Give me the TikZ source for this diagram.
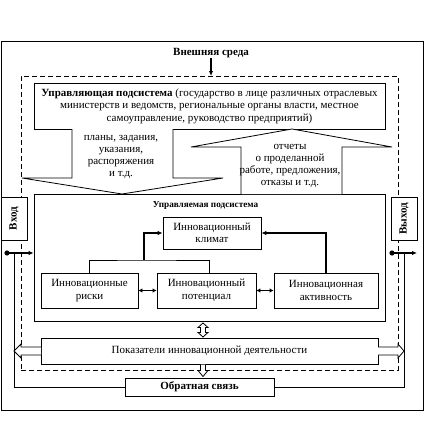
\documentclass[tikz,border=0pt]{standalone}
\usepackage{fontspec}
\setmainfont{Liberation Serif}
\usetikzlibrary{arrows.meta,calc}
\begin{document}
\begin{tikzpicture}[x=1pt,y=-1pt,
  box/.style={draw,line width=0.8pt,fill=white,inner sep=1pt,align=center,font=\fontsize{11}{12.5}\selectfont},
  thinline/.style={line width=0.8pt},
  thk/.style={line width=1.5pt},
  tip/.style={-{Latex[length=5pt,width=4.5pt]}},
  dtip/.style={{Latex[length=4pt,width=4.5pt]}-{Latex[length=4pt,width=4.5pt]}},
  txt/.style={align=center,inner sep=0pt,font=\fontsize{11}{12.2}\selectfont},
  blk/.style={draw,line width=0.8pt,fill=white}]
\useasboundingbox (0,0) rectangle (435,436);
% outer
\node[draw,line width=0.8pt,minimum width=422pt,minimum height=369pt,inner sep=0pt] (outer) at (212,225.5) {};
% dashed
\node[draw,line width=1pt,dash pattern=on 5pt off 3pt,minimum width=377pt,minimum height=294pt,inner sep=0pt] (dash) at (209.5,223) {};
\node[txt,font=\fontsize{11}{12}\selectfont\bfseries] (env) at (211,53) {Внешняя среда};
\coordinate (envtip) at (211,76);
\draw[thk,tip] (211,58) -- (envtip);
% control subsystem
\node[box,minimum width=351pt,minimum height=46pt] (ctrl) at (209.5,106)
 {\textbf{Управляющая подсистема} (государство в лице различных отраслевых\\
  министерств и ведомств, региональные органы власти, местное\\
  самоуправление, руководство предприятий)};
% managed subsystem
\node[box,minimum width=351pt,minimum height=127pt] (man) at (209.5,257.5) {};
\node[txt,font=\fontsize{9.2}{11}\selectfont\bfseries] (mantitle) at (205.5,205) {Управляемая подсистема};
% block arrows
\draw[blk] (72,129) -- (72,178) -- (22,178) -- (122,194) -- (223,178) -- (173,178) -- (173,129);
\draw[blk] (241,194) -- (241,147) -- (191,147) -- (292,129) -- (392,147) -- (342,147) -- (342,194);
\node[txt] (plans) at (121,157) {планы, задания,\\указания,\\распоряжения\\и т.д.};
\node[txt] (reports) at (290,166) {отчеты\\о проделанной\\работе, предложения,\\отказы и т.д.};
% inner boxes
\node[box,minimum width=98pt,minimum height=32pt] (clim) at (212,233) {Инновационный\\климат};
\node[box,minimum width=97pt,minimum height=35pt] (risk) at (89.5,290.5) {Инновационные\\риски};
\node[box,minimum width=99pt,minimum height=35pt] (pot) at (206.5,290.5) {Инновационный\\потенциал};
\node[box,minimum width=104pt,minimum height=35pt] (act) at (326,290.5) {Инновационная\\активность};
\coordinate (brk) at (144,260);
\draw[thinline] (risk.north) |- (brk) -| ([xshift=3pt]pot.north);
\draw[thk,tip] (brk) |- (clim.west);
\draw[thk,tip] (act.north) |- (clim.east);
\draw[thk,dtip] (risk.east) -- (pot.west);
\draw[thk,dtip] (pot.east) -- (act.west);
% input / output
\node[box,minimum width=26pt,minimum height=43pt] (in) at (14,218.5) {\rotatebox{90}{\textbf{Вход}}};
\node[box,minimum width=26pt,minimum height=43pt] (out) at (404,218.5) {\rotatebox{90}{\textbf{Выход}}};
\coordinate (indot) at (7,253);
\coordinate (inj) at (14,253);
\coordinate (outdot) at (392,253);
\coordinate (outj) at (404,253);
\coordinate (outend) at (417,253);
\fill (indot) circle (2.6pt);
\fill (outdot) circle (2.6pt);
\draw[thk,tip] (indot) -- (indot -| man.west);
\draw[thk,tip] (outdot) -- (outend);
% indicators and feedback
\node[box,minimum width=337pt,minimum height=26pt] (ind) at (209.5,351) {Показатели инновационной деятельности};
\node[box,minimum width=149pt,minimum height=18pt,font=\fontsize{11}{12}\selectfont\bfseries] (fb) at (199.5,387) {Обратная связь};
\draw[thinline] (fb.west) -| (inj);
\draw[thinline] (fb.east) -| (outj);
% small hollow arrows
\draw[blk] (41,347) -- (21,347) -- (21,344) -- (14,351) -- (21,358) -- (21,355) -- (41,355);
\draw[blk] (378,347) -- (398,347) -- (398,344) -- (404,351) -- (398,358) -- (398,355) -- (378,355);
\draw[blk] (203,323) -- (198,327.5) -- (200.5,327.5) -- (200.5,332.5) -- (198,332.5) -- (203,337) -- (208,332.5) -- (205.5,332.5) -- (205.5,327.5) -- (208,327.5) -- cycle;
\draw[blk] (200.5,364.5) -- (200.5,370.5) -- (198,370.5) -- (203,376.5) -- (208,370.5) -- (205.5,370.5) -- (205.5,364.5);
\end{tikzpicture}
\end{document}
